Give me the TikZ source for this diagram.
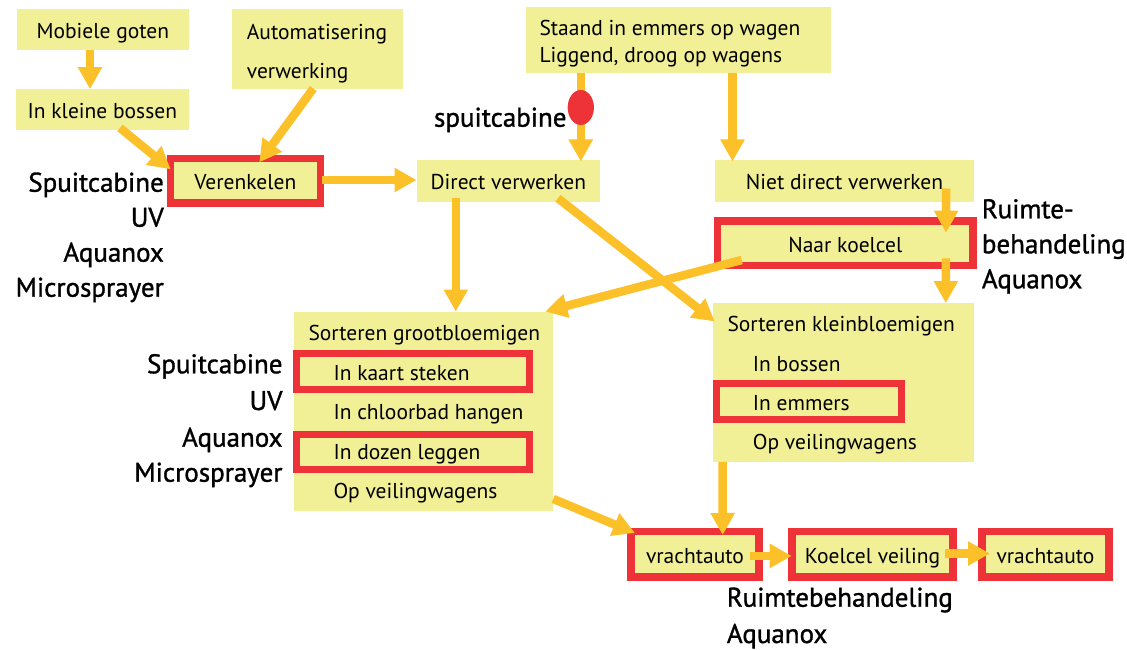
\documentclass[tikz,border=0pt]{standalone}
\usepackage{fontspec}
\setmainfont{PT Sans}
\newfontfamily\lblfont[FakeBold=1.2]{PT Sans}
\usetikzlibrary{arrows.meta,calc,shapes.geometric}
\definecolor{boxy}{RGB}{242,240,150}
\definecolor{redb}{RGB}{238,51,56}
\definecolor{arr}{RGB}{252,192,40}
\begin{document}
\begin{tikzpicture}[x=1pt,y=-1pt,
  ybox/.style={fill=boxy, inner sep=0pt, text height=18pt, text depth=0pt, font=\fontsize{21.5}{25}\selectfont},
  rbox/.style={ybox, draw=redb, line width=7.3pt},
  rsub/.style={draw=redb, line width=7pt, inner sep=0pt},
  txt/.style={inner sep=0pt, font=\fontsize{21.5}{25}\selectfont, anchor=base west},
  lbl/.style={inner sep=0pt, font=\lblfont\fontsize{27}{31}\selectfont},
  flow/.style={draw=arr, line width=8.5pt, -{Triangle[width=23pt,length=22pt]}},
]
\useasboundingbox (0,0) rectangle (1127,650);

% boxes
\node[ybox, minimum width=172.3pt, minimum height=41pt] (mg) at (102.85,29.5) {Mobiele goten};
\node[ybox, minimum width=173.3pt, minimum height=40.7pt] (kb) at (102.35,109.65) {In kleine bossen};
\node[ybox, minimum width=170.4pt, minimum height=80.3pt] (au) at (317.5,49.15) {};
\node[txt] (au1) at (246.7,39.3) {Automatisering};
\node[txt] (au2) at (246.7,78.3) {verwerking};
\node[rbox, minimum width=150pt, minimum height=44.4pt] (ve) at (245.35,180.85) {Verenkelen};
\node[ybox, minimum width=183.3pt, minimum height=41.7pt] (dv) at (508.35,180.85) {Direct verwerken};
\node[ybox, minimum width=304.7pt, minimum height=66.6pt] (st) at (678.35,40) {};
\begin{scope}
\clip (526,0) rectangle (801,73);
\node[txt] (st1) at (539.3,36) {Staand in emmers op wagen};
\end{scope}
\node[txt] (st2) at (539.3,62.3) {Liggend, droog op wagens};
\node[ybox, minimum width=259pt, minimum height=41.7pt] (nd) at (844.5,180.85) {Niet direct verwerken};
\node[rbox, minimum width=255.4pt, minimum height=44.4pt] (nk) at (845.35,243.15) {Naar koelcel};

\node[ybox, minimum width=258.7pt, minimum height=199pt] (sg) at (423.35,411.2) {};
\node[rsub, minimum width=233pt, minimum height=35.7pt] (kaart) at (412.7,371.35) {};
\node[rsub, minimum width=233pt, minimum height=35pt] (dozen) at (412.7,451.7) {};
\node[txt] (sg0) at (308.3,340.7) {Sorteren grootbloemigen};
\node[txt] (sg1) at (333.3,380.7) {In kaart steken};
\node[txt] (sg2) at (333.3,419.3) {In chloorbad hangen};
\node[txt] (sg3) at (333.3,459.3) {In dozen leggen};
\node[txt] (sg4) at (333.3,498.3) {Op veilingwagens};

\node[ybox, minimum width=260.7pt, minimum height=159pt] (sk) at (843.65,382.2) {};
\node[rsub, minimum width=184.7pt, minimum height=35.7pt] (emm) at (809.15,401.35) {};
\node[txt] (sk0) at (727.3,331.7) {Sorteren kleinbloemigen};
\node[txt] (sk1) at (752.7,371.7) {In bossen};
\node[txt] (sk2) at (752.7,410.7) {In emmers};
\node[txt] (sk3) at (752.7,449) {Op veilingwagens};

\node[rbox, minimum width=128.1pt, minimum height=45.4pt] (v1) at (695,554.35) {vrachtauto};
\node[rbox, minimum width=161.1pt, minimum height=45.4pt] (kv) at (872.5,554.35) {Koelcel veiling};
\node[rbox, minimum width=127.1pt, minimum height=45.4pt] (v2) at (1045.5,554.35) {vrachtauto};

% labels
\node[lbl, anchor=base east] (la1) at (164,191.7) {Spuitcabine};
\node[lbl, anchor=base east] (la2) at (164,226.7) {UV};
\node[lbl, anchor=base east] (la3) at (164,261.7) {Aquanox};
\node[lbl, anchor=base east] (la4) at (164,296.7) {Microsprayer};
\node[lbl, anchor=base east] (lb1) at (282.7,373.3) {Spuitcabine};
\node[lbl, anchor=base east] (lb2) at (282.7,410) {UV};
\node[lbl, anchor=base east] (lb3) at (282.7,446.7) {Aquanox};
\node[lbl, anchor=base east] (lb4) at (282.7,481.7) {Microsprayer};
\node[lbl, anchor=base west] (lc1) at (981.7,218.3) {Ruimte-};
\node[lbl, anchor=base west] (lc2) at (981.7,253.3) {behandeling};
\node[lbl, anchor=base west] (lc3) at (981.7,288.3) {Aquanox};
\node[lbl, anchor=base west] (ld1) at (726.7,606.7) {Ruimtebehandeling};
\node[lbl, anchor=base west] (ld2) at (726.7,643) {Aquanox};
\node[lbl, anchor=base east] (lsp) at (566.7,126.7) {spuitcabine};

% arrows
\draw[flow] ($(mg.south)+(-12.85,0)$) -- ($(kb.north)+(-12.35,0)$);
\draw[flow] ($(kb.south)+(17.65,-2.3)$) -- ($(ve.north west)+(4,14.3)$);
\draw[flow] ($(au.south)+(-4.2,-1)$) -- ($(ve.north)+(13.95,7.3)$);
\draw[flow] ($(ve.east)+(-2,-0.85)$) -- ($(dv.west)+(0,-0.85)$);
\draw[flow] ($(st.south west)+(55,0)$) -- ($(dv.north west)+(164.3,1.7)$);
\draw[flow] ($(st.south west)+(206.7,0)$) -- ($(nd.north west)+(17.7,1.7)$);
\draw[flow] ($(nd.south east)+(-28,-13.4)$) -- ($(nk.north east)+(-30.7,15.4)$);
\draw[flow] ($(nk.south east)+(-30.7,-10.7)$) -- ($(sk.north west)+(232.7,0.6)$);
\draw[flow] ($(dv.south west)+(39.3,-4)$) -- ($(sg.north west)+(162,0)$);
\draw[flow] ($(dv.south east)+(-42.3,-3.7)$) -- ($(sk.north west)+(1.7,19)$);
\draw[flow] ($(nk.south west)+(27.7,-9)$) -- ($(sg.north east)+(-7.7,0)$);
\draw[flow] ($(sg.south east)+(0.3,-12)$) -- ($(v1.north west)+(7.7,5)$);
\draw[flow] ($(sk.south west)+(9.4,0)$) -- ($(v1.north west)+(95.4,7)$);
\draw[flow] ($(v1.east)+(-12.7,1.6)$) -- ($(kv.west)+(3.4,1.6)$);
\draw[flow] ($(kv.east)+(-11.7,-0.8)$) -- ($(v2.west)+(11.7,-0.8)$);

\node[ellipse, fill=redb, minimum width=26.3pt, minimum height=35pt, inner sep=0pt] (el) at (580.8,107.5) {};
\end{tikzpicture}
\end{document}
